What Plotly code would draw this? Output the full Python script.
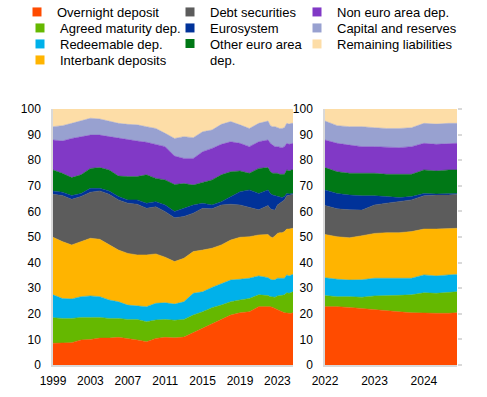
import plotly.graph_objects as go

dates = [f"{y}-01-01" for y in range(1999, 2022)] + [
    "2022-01-01", "2022-04-01", "2022-07-01", "2022-10-01",
    "2023-01-01", "2023-04-01", "2023-07-01", "2023-10-01",
    "2024-01-01", "2024-04-01", "2024-07-01", "2024-09-01"]

overnight = [8.5, 8.5, 8.7, 9.8, 10.0, 10.5, 10.5, 10.8, 10.4, 9.8, 9.1, 10.4, 10.8, 10.6, 10.9, 12.6, 14.3, 16.3, 17.8, 19.5, 20.4, 20.8, 22.8,
             23.0, 22.8, 22.5, 22.0, 21.7, 21.2, 20.8, 20.4, 20.2, 20.2, 20.2, 20.4]
agreed = [10.0, 9.7, 9.5, 8.8, 8.6, 8.1, 7.7, 7.4, 7.4, 8.0, 7.8, 7.2, 7.0, 6.9, 6.9, 6.9, 6.5, 6.1, 5.6, 5.2, 5.0, 5.2, 4.6,
          4.1, 3.9, 4.2, 4.5, 5.3, 5.8, 6.4, 7.0, 8.0, 7.8, 8.2, 8.2]
redeemable = [8.9, 7.8, 7.6, 8.1, 8.4, 8.1, 7.2, 6.5, 5.6, 5.2, 5.9, 6.5, 6.5, 6.3, 6.9, 8.5, 7.8, 7.9, 8.5, 8.5, 8.1, 7.9, 7.4,
              7.0, 6.8, 6.5, 6.8, 6.9, 6.9, 6.7, 6.5, 7.0, 6.8, 6.8, 6.8]
interbank = [22.5, 22.2, 21.1, 21.5, 22.5, 22.4, 21.5, 20.2, 20.2, 20.0, 20.2, 19.3, 17.8, 16.6, 17.0, 16.3, 16.3, 15.3, 15.0, 15.6, 16.4, 16.2, 16.0,
             16.9, 16.6, 16.5, 17.2, 17.5, 17.8, 17.8, 18.2, 17.9, 18.3, 18.2, 18.0]
debt = [16.8, 18.0, 17.8, 17.6, 18.0, 18.9, 19.8, 19.6, 19.6, 19.8, 18.2, 18.4, 17.8, 17.1, 16.3, 15.0, 16.3, 15.4, 15.6, 14.0, 12.6, 11.4, 9.8,
        11.3, 10.9, 10.9, 10.0, 11.1, 11.5, 12.1, 12.4, 13.0, 13.3, 13.0, 13.3]
eurosystem = [1.3, 1.3, 1.5, 1.2, 1.5, 1.0, 1.3, 1.3, 1.3, 1.7, 2.0, 2.0, 2.6, 2.5, 3.2, 3.2, 2.0, 1.5, 1.3, 3.0, 5.2, 6.9, 6.4,
              6.1, 6.0, 5.8, 5.6, 3.6, 2.6, 1.6, 1.3, 0.9, 0.4, 0.4, 0.3]
other_ea = [8.2, 7.4, 7.0, 7.3, 7.8, 8.1, 8.2, 8.0, 9.1, 9.1, 11.1, 9.1, 9.8, 10.5, 9.7, 7.8, 8.1, 9.8, 10.5, 9.7, 8.1, 6.5, 9.8,
            8.7, 8.5, 8.5, 8.8, 8.8, 8.7, 9.1, 8.7, 9.2, 9.0, 9.4, 9.2]
non_ea = [11.7, 12.6, 15.3, 14.9, 13.0, 12.7, 13.0, 14.7, 14.3, 13.9, 12.7, 13.3, 13.0, 11.1, 9.8, 10.4, 12.0, 12.3, 11.9, 11.7, 10.8, 10.4, 10.4,
          10.8, 11.1, 11.0, 10.4, 10.4, 10.5, 10.4, 10.8, 10.4, 10.4, 10.4, 10.4]
capital = [5.2, 6.0, 5.9, 6.1, 6.6, 6.3, 5.9, 5.9, 6.1, 6.3, 6.1, 6.2, 5.2, 6.9, 8.5, 8.1, 7.8, 7.2, 7.8, 7.9, 7.2, 7.1, 7.2,
           7.4, 6.9, 7.2, 7.8, 7.4, 7.4, 7.5, 7.4, 7.8, 7.9, 7.8, 7.8]
remaining = [6.9, 6.5, 5.6, 4.7, 3.6, 3.9, 4.9, 5.6, 6.0, 6.2, 6.9, 7.6, 9.5, 11.5, 10.8, 11.2, 8.9, 8.2, 6.0, 4.9, 6.2, 7.6, 5.6,
             4.7, 6.5, 6.9, 6.9, 7.3, 7.6, 7.6, 7.3, 5.6, 5.9, 5.6, 5.6]

names = ["Overnight deposit", "Agreed maturity dep.", "Redeemable dep.", "Interbank deposits",
         "Debt securities", "Eurosystem", "Other euro area<br>dep.",
         "Non euro area dep.", "Capital and reserves", "Remaining liabilities"]
series = [overnight, agreed, redeemable, interbank, debt, eurosystem, other_ea, non_ea, capital, remaining]
colors = ["#FF4B00", "#65B800", "#00B1EA", "#FFB400", "#5C5C5C", "#003299", "#007816",
          "#8139C6", "#98A1D0", "#FDDDA7"]

# legend layout (pixel positions of each entry: left edge, vertical centre)
legend_pos = [(17, 12), (20, 28), (20, 44), (20, 60),
              (170, 12), (170, 28), (170, 52),
              (297, 12), (297, 28), (297, 44)]

fig = go.Figure()
for name, vals, col in zip(names, series, colors):
    fig.add_trace(go.Scatter(x=dates, y=vals, stackgroup="L", mode="lines",
                             line=dict(width=0.5, color=col), fillcolor=col,
                             showlegend=False, hoverinfo="skip", xaxis="x", yaxis="y"))
for name, vals, col in zip(names, series, colors):
    fig.add_trace(go.Scatter(x=dates, y=vals, stackgroup="R", mode="lines",
                             line=dict(width=0.5, color=col), fillcolor=col,
                             showlegend=False, hoverinfo="skip", xaxis="x2", yaxis="y2"))

font = "Liberation Sans, Arial, sans-serif"
axis_col = "#d9d9d9"
W, H = 487, 397
ML, MR, MT, MB = 53, 30, 109, 32
PW, PH = W - ML - MR, H - MT - MB

legends = {}
for i, (name, col) in enumerate(zip(names, colors)):
    lid = "legend" if i == 0 else f"legend{i + 1}"
    fig.add_trace(go.Scatter(x=[dates[0]], y=[-50], mode="markers", name=name,
                             marker=dict(symbol="square", size=9, color=col),
                             legend=lid, hoverinfo="skip", xaxis="x", yaxis="y"))
    px, py = legend_pos[i]
    legends[lid] = dict(orientation="v", xanchor="left", yanchor="middle",
                        x=(px - ML) / PW, y=(H - MB - py) / PH,
                        bgcolor="rgba(0,0,0,0)", valign="top",
                        font=dict(family=font, size=13, color="#000000"),
                        itemwidth=30, traceorder="normal")

# invisible point for the right-hand tick axis of the right panel
fig.add_trace(go.Scatter(x=[dates[-1]], y=[-50], mode="markers", marker=dict(opacity=0),
                         xaxis="x2", yaxis="y3", showlegend=False, hoverinfo="skip"))

fig.update_layout(
    width=W, height=H,
    margin=dict(l=ML, r=MR, t=MT, b=MB, autoexpand=False),
    paper_bgcolor="white", plot_bgcolor="white",
    font=dict(family=font, size=12, color="#000000"),
    xaxis=dict(domain=[0, 240 / PW], type="date", range=["1999-01-01", "2024-09-01"],
               tick0="1999-01-01", dtick="M48", tickformat="%Y",
               showgrid=False, zeroline=False, showline=True, linecolor=axis_col, linewidth=1.5,
               ticks="outside", ticklen=4, tickcolor="rgba(0,0,0,0)", tickfont=dict(size=12)),
    yaxis=dict(domain=[0, 1], range=[0, 100], dtick=10, showgrid=False, zeroline=False,
               showline=True, linecolor=axis_col, linewidth=1.5,
               ticks="outside", ticklen=8, tickcolor="rgba(0,0,0,0)", tickfont=dict(size=12)),
    xaxis2=dict(domain=[272 / PW, 1], anchor="y2", type="date",
                range=["2022-01-01", "2024-09-01"], tick0="2022-01-01", dtick="M12",
                tickformat="%Y", showgrid=False, zeroline=False, showline=True,
                linecolor=axis_col, linewidth=1.5,
                ticks="outside", ticklen=4, tickcolor="rgba(0,0,0,0)", tickfont=dict(size=12)),
    yaxis2=dict(anchor="x2", domain=[0, 1], range=[0, 100], dtick=10, showgrid=False,
                zeroline=False, showline=True, linecolor=axis_col, linewidth=1.5,
                ticks="outside", ticklen=8, tickcolor="rgba(0,0,0,0)", tickfont=dict(size=12)),
    yaxis3=dict(anchor="x2", overlaying="y2", side="right", range=[0, 100], dtick=10,
                showgrid=False, zeroline=False, showline=False, showticklabels=False,
                ticks="outside", ticklen=4, tickcolor=axis_col, tickwidth=1.5),
    **legends,
)

fig.write_html("out.html", config={"displayModeBar": False},
               post_script="document.body.style.margin='0px';")
